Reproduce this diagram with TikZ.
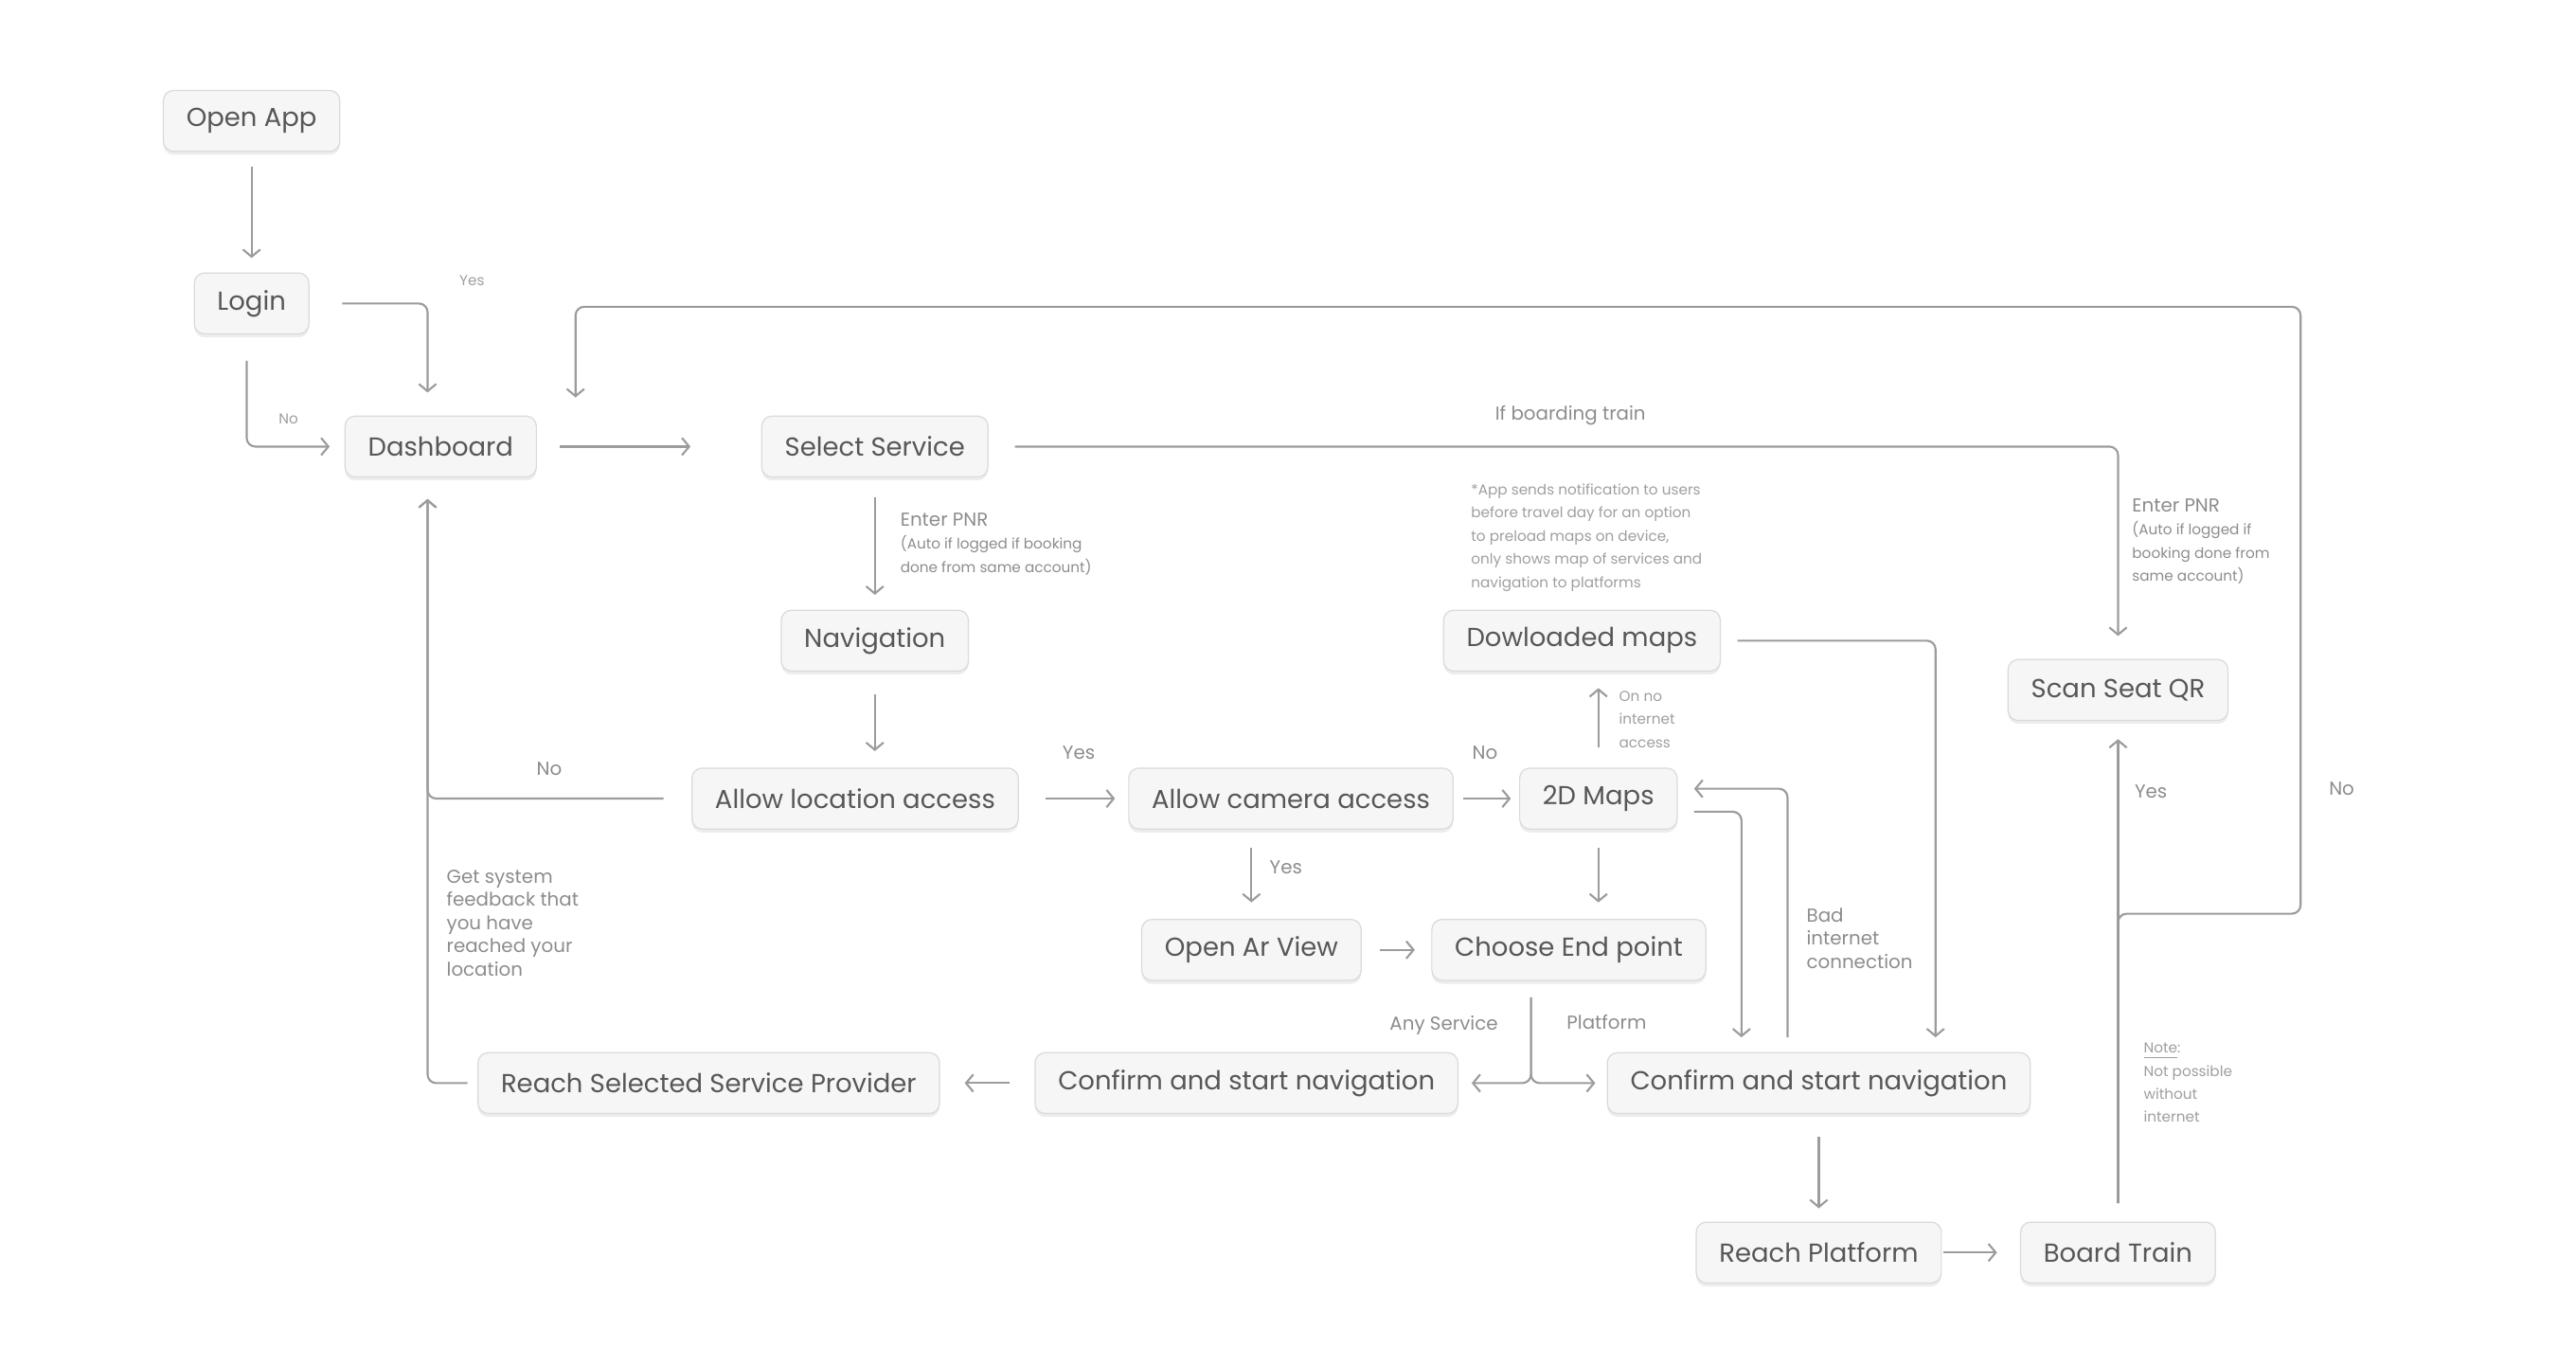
\documentclass[tikz,border=0pt]{standalone}
\usepackage{fontspec}
\setmainfont{Poppins}
\usetikzlibrary{positioning,shadows,arrows.meta}

\definecolor{boxfill}{HTML}{F6F6F6}
\definecolor{boxline}{HTML}{DADADA}
\definecolor{boxtext}{HTML}{575757}
\definecolor{linegray}{HTML}{9C9C9C}
\definecolor{lbltext}{HTML}{8C8C8C}
\definecolor{notetext}{HTML}{9E9E9E}

\begin{document}
\begin{tikzpicture}[line width=0.7pt, on grid,
    box/.style={draw=boxline, line width=0.4pt, fill=boxfill, rounded corners=3.5pt,
        minimum height=0.74cm, inner xsep=0.28cm, text=boxtext,
        font=\fontsize{9}{11}\selectfont,
        drop shadow={shadow xshift=0pt, shadow yshift=-1.2pt, fill=black, opacity=0.07}},
    lbl/.style={text=lbltext, font=\fontsize{6.5}{8}\selectfont, inner sep=0pt, align=left},
    note/.style={text=notetext, font=\fontsize{5}{8}\selectfont, inner sep=0pt, align=left},
    flow/.style={draw=linegray, ->, rounded corners=3pt, shorten >=5pt, shorten <=5pt},
    >={Straight Barb[length=2.5pt,width=6pt]}]
    \useasboundingbox (0,0) rectangle (31.33,-16.59);

    % boxes
    \node[box] (open) at (3.06,-1.47) {Open App};
    \node[box, below=2.22cm of open] (login) {Login};
    \node[box, below right=1.74cm and 2.3cm of login] (dash) {Dashboard};
    \node[box, right=5.28cm of dash] (select) {Select Service};
    \node[box, below=2.36cm of select] (nav) {Navigation};
    \node[box, below left=1.92cm and 0.24cm of nav] (loc) {Allow location access};
    \node[box, right=5.3cm of loc] (cam) {Allow camera access};
    \node[box, right=3.74cm of cam] (maps) {2D Maps};
    \node[box, above left=1.92cm and 0.2cm of maps] (dl) {Dowloaded maps};
    \node[box, below left=1.84cm and 0.48cm of cam] (arv) {Open Ar View};
    \node[box, below left=1.84cm and 0.36cm of maps] (choose) {Choose End point};
    \node[box, below left=1.62cm and 0.06cm of arv] (confl) {Confirm and start navigation};
    \node[box, left=6.54cm of confl] (reach) {Reach Selected Service Provider};
    \node[box, right=6.96cm of confl] (confr) {Confirm and start navigation};
    \node[box, below=2.06cm of confr] (plat) {Reach Platform};
    \node[box, right=3.64cm of plat] (board) {Board Train};
    \node[box, above=6.84cm of board] (scan) {Scan Seat QR};

    \coordinate (loopa) at ([xshift=2.22cm,yshift=4.12cm]board.center);
    \coordinate (loopb) at ([xshift=1.64cm,yshift=1.7cm]dash.center);

    % connectors
    \draw[flow] (open) -- (login);
    \draw[flow, shorten <=0.4cm, shorten >=0.28cm] (login.east) -| ([xshift=-0.16cm]dash.north);
    \draw[flow, shorten <=0.32cm, shorten >=0.18cm] ([xshift=-0.06cm]login.south) |- (dash.west);
    \draw[flow, shorten <=0.28cm, shorten >=0.86cm] (dash.east) -- (dash.east -| select.west);
    \draw[flow, shorten <=0.24cm, shorten >=0.18cm] (select) -- (nav);
    \draw[flow, shorten <=0.28cm, shorten >=0.2cm] (nav.south) -- (nav.south |- loc.north);
    \draw[flow, shorten <=0.34cm, shorten >=0.26cm] (loc.west) -| ([xshift=-0.16cm]dash.south);
    \draw[flow, shorten <=0.32cm, shorten >=0.16cm] (loc) -- (cam);
    \draw[flow, shorten <=0.12cm, shorten >=0.1cm] (cam) -- (maps);
    \draw[flow, shorten <=0.22cm, shorten >=0.2cm] (cam.south -| arv.north) -- (arv.north);
    \draw[flow, shorten <=0.24cm, shorten >=0.2cm] (maps.north) -- (maps.north |- dl.south);
    \draw[flow, shorten <=0.22cm, shorten >=0.2cm] (maps.south) -- (maps.south |- choose.north);
    \draw[flow, shorten <=0.22cm, shorten >=0.2cm] (arv) -- (choose);
    \draw[flow, shorten <=0.2cm, shorten >=0.16cm] ([xshift=-0.46cm]choose.south) |- (confl.east);
    \draw[flow, shorten <=0.2cm, shorten >=0.14cm] ([xshift=-0.46cm]choose.south) |- (confr.west);
    \draw[flow, shorten <=0.3cm, shorten >=0.3cm] (confl) -- (reach);
    \draw[flow, shorten <=0.12cm, shorten >=0.26cm] (reach.west) -| ([xshift=-0.16cm]dash.south);
    \draw[flow, shorten <=0.2cm, shorten >=0.18cm] ([yshift=-0.16cm]maps.east) -| ([xshift=-0.94cm]confr.north);
    \draw[flow, shorten <=0.18cm, shorten >=0.2cm] ([xshift=-0.38cm]confr.north) |- ([yshift=0.12cm]maps.east);
    \draw[flow, shorten <=0.2cm, shorten >=0.18cm] (dl.east) -| ([xshift=1.42cm]confr.north);
    \draw[flow, shorten <=0.28cm, shorten >=0.16cm] (confr) -- (plat);
    \draw[flow, shorten <=0.02cm, shorten >=0.28cm] (plat) -- (board);
    \draw[flow, shorten <=0.22cm, shorten >=0.22cm] (board) -- (scan);
    \draw[flow, shorten <=0.22cm, shorten >=0.22cm] (board.north) |- (loopa) |- (loopb) -- (loopb |- dash.north);
    \draw[flow, shorten <=0.32cm, shorten >=0.28cm] (select.east) -| (scan.north);

    % labels
    \node[note] (yeslogin) at ([xshift=0.38cm,yshift=1.64cm]dash.north) {Yes};
    \node[note] (nologin) at ([xshift=-0.68cm,yshift=0.34cm]dash.west) {No};
    \node[lbl, anchor=north west] (pnr) at ([xshift=0.3cm,yshift=-0.42cm]select.south)
        {Enter PNR\\\fontsize{5}{8}\selectfont(Auto if logged if booking\\\fontsize{5}{8}\selectfont done from same account)};
    \node[lbl] (noloc) at ([xshift=-3.72cm,yshift=0.36cm]loc.center) {No};
    \node[lbl] (yesloc) at ([xshift=-2.58cm,yshift=0.56cm]cam.center) {Yes};
    \node[lbl] (nocam) at ([xshift=-1.38cm,yshift=0.56cm]maps.center) {No};
    \node[lbl] (yescam) at ([xshift=0.42cm,yshift=1.0cm]arv.center) {Yes};
    \node[note, anchor=north west] (offline) at ([xshift=0.24cm,yshift=1.32cm]maps.center) {On no\\internet\\access};
    \node[lbl] (anysrv) at ([xshift=-1.52cm,yshift=-0.92cm]choose.center) {Any Service};
    \node[lbl] (platlbl) at ([xshift=0.46cm,yshift=-0.88cm]choose.center) {Platform};
    \node[lbl, anchor=north west] (feedback) at ([xshift=0.06cm,yshift=-4.76cm]dash.south)
        {Get system\\feedback that\\you have\\reached your\\location};
    \node[lbl, anchor=north west] (badnet) at ([xshift=-0.16cm,yshift=2.14cm]confr.center) {Bad\\internet\\connection};
    \node[lbl] (yesboard) at ([xshift=0.4cm,yshift=5.6cm]board.center) {Yes};
    \node[lbl] (noboard) at ([xshift=2.72cm,yshift=5.64cm]board.center) {No};
    \node[lbl] (boarding) at ([xshift=8.46cm,yshift=0.38cm]select.center) {If boarding train};
    \node[lbl, anchor=north west] (pnrscan) at ([xshift=0.16cm,yshift=2.34cm]scan.center)
        {Enter PNR\\\fontsize{5}{8}\selectfont(Auto if logged if\\\fontsize{5}{8}\selectfont booking done from\\\fontsize{5}{8}\selectfont same account)};
    \node[note, anchor=north west] (preload) at ([xshift=-1.36cm,yshift=1.92cm]dl.center)
        {*App sends notification to users\\before travel day for an option\\to preload maps on device,\\only shows map of services and\\navigation to platforms};
    \node[note, anchor=north west] (offnote) at ([xshift=0.3cm,yshift=2.56cm]board.center)
        {\underline{Note}:\\Not possible\\without\\internet};
\end{tikzpicture}
\end{document}
